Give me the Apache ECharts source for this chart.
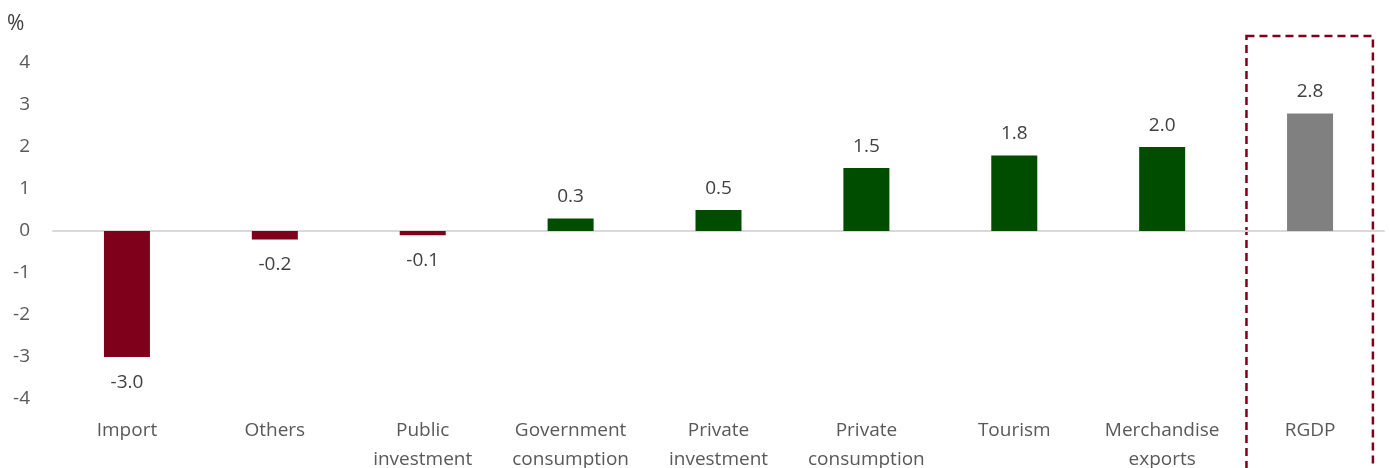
<!DOCTYPE html>
<html>
<head>
  <meta charset="utf-8" />
  <title>Contributions to RGDP growth</title>
  <script src="https://cdn.jsdelivr.net/npm/echarts@6/dist/echarts.min.js"></script>
  <style>
    html, body { margin: 0; padding: 0; background: #fff; }
    #chart-main { width: 1390px; height: 468px; }
  </style>
</head>
<body>
<div id="chart-main"></div>
<script>
var categories = ['Import', 'Others', 'Public\ninvestment', 'Government\nconsumption', 'Private\ninvestment',
                  'Private\nconsumption', 'Tourism', 'Merchandise\nexports', 'RGDP'];
var values = [-3.0, -0.2, -0.1, 0.3, 0.5, 1.5, 1.8, 2.0, 2.8];
var yTicks = [-4, -3, -2, -1, 0, 1, 2, 3, 4];

var RED = '#7f001a', GREEN = '#004d00', GREY = '#808080';
var FONT = '"Open Sans", "Noto Sans", sans-serif';

var myChart = echarts.init(document.getElementById('chart-main'));

var seriesData = values.map(function (v, i) {
  var color = i === values.length - 1 ? GREY : (v < 0 ? RED : GREEN);
  return {
    value: v,
    itemStyle: { color: color },
    label: { position: v < 0 ? 'bottom' : 'top', distance: v < 0 ? 16 : 12 }
  };
});

var labelText = { color: '#595959', fontSize: 19, fontFamily: FONT };

var option = {
  backgroundColor: '#fff',
  animation: false,
  grid: { left: 53, right: 6, top: 63, bottom: 69, outerBoundsMode: 'none', containLabel: false },
  xAxis: [{
    type: 'category', data: categories,
    axisLine: { onZero: true, lineStyle: { color: '#d9d9d9', width: 2 } },
    axisTick: { show: false }, axisLabel: { show: false }
  }, {
    type: 'category', data: categories, position: 'bottom',
    axisLine: { show: false, onZero: false }, axisTick: { show: false },
    axisLabel: Object.assign({ margin: 17, lineHeight: 29, interval: 0 }, labelText)
  }],
  yAxis: {
    type: 'value', min: yTicks[0], max: yTicks[yTicks.length - 1], interval: 1,
    name: '%', nameLocation: 'end', nameGap: 28,
    nameTextStyle: { color: '#404040', fontSize: 21, fontFamily: FONT, align: 'left', padding: [0, 0, 0, -46] },
    axisLine: { show: false }, axisTick: { show: false }, splitLine: { show: false },
    axisLabel: Object.assign({ margin: 23 }, labelText)
  },
  series: [{
    type: 'bar', xAxisIndex: 0, barWidth: 46, data: seriesData,
    label: {
      show: true, color: '#404040', fontSize: 19, fontFamily: FONT,
      formatter: function (p) { return p.value.toFixed(1); }
    }
  }]
};

myChart.setOption(option);

// dashed box round the RGDP bar, placed from the axis scale
var last = categories.length - 1;
var c1 = myChart.convertToPixel({ xAxisIndex: 0 }, last);
var c0 = myChart.convertToPixel({ xAxisIndex: 0 }, last - 1);
var band = c1 - c0;
var topY = myChart.convertToPixel({ yAxisIndex: 0 }, 4) - 27;
myChart.setOption({
  graphic: [{
    type: 'rect', silent: true,
    shape: { x: c1 - band * 0.43, y: topY, width: band * 0.855, height: 480 },
    style: { fill: 'none', stroke: '#7f001a', lineWidth: 2.5, lineDash: [8, 5] }
  }]
});
</script>
</body>
</html>
